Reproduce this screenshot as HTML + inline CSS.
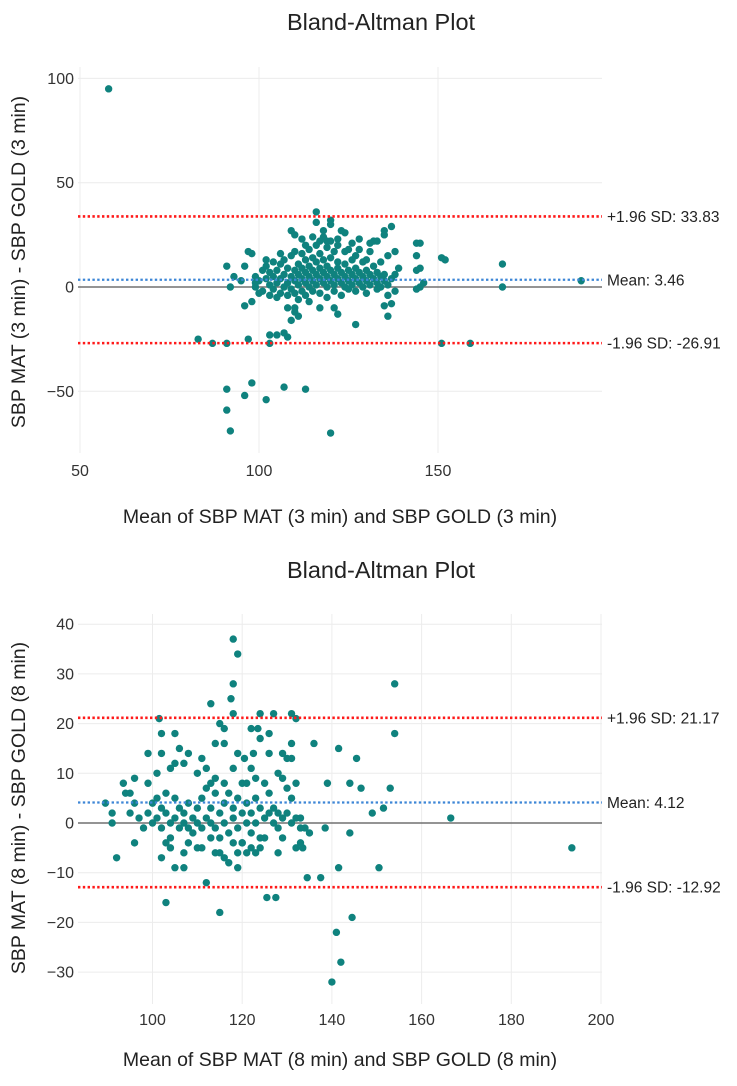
<!DOCTYPE html>
<html><head><meta charset="utf-8"><style>
html,body{margin:0;padding:0;background:#fff;}
svg{display:block;font-family:"Liberation Sans",Arial,sans-serif;}
</style></head><body>
<svg id="fig" width="737" height="1086" viewBox="0 0 737 1086" xmlns="http://www.w3.org/2000/svg"></svg>
<script>
// ---------- Chart 1 (3 min) data ----------
const c1TitleText = "Bland-Altman Plot";
const c1XTicks = [50, 100, 150];
const c1YTicks = [100, 50, 0, -50];
const c1Stats = [33.83, 3.46, -26.91];
const c1StatLabels = ["+1.96 SD: 33.83", "Mean: 3.46", "-1.96 SD: -26.91"];
const c1MeanX = [58,168,168,190,151,152,144,145,144,144,145,144,145,146,151,159,83,87,91,91,92,93,95,96,96,97,97,98,98,99,99,
91,91,92,96,98,102,107,113,120,103,103,105,107,108,108,109,110,110,111,109,110,112,116,116,120,120,127,122,121,114,117,
137,135,135,136,138,139,138,137,136,135,136,138,128,132,131,133,124,122,125,127,130,
100,101,101,102,102,103,103,104,104,104,105,105,106,106,106,107,107,107,108,108,108,109,109,109,110,110,110,111,111,111,
112,112,112,112,113,113,113,113,114,114,114,114,115,115,115,115,116,116,116,116,117,117,117,117,118,118,118,118,119,119,119,119,119,
120,120,120,120,121,121,121,121,122,122,122,123,123,123,124,124,124,125,125,125,126,126,126,127,127,127,128,128,129,129,129,
130,130,130,131,131,132,132,133,133,133,134,134,134,135,135,136,137,131,128,126,118,119,115,122,124,110,106,102,103,100,105,111,99,113,117,123];
const c1Diff = [95,11,0,3,14,13,21,21,15,8,9,-1,0,2,-27,-27,-25,-27,-27,10,0,5,3,-9,10,-25,17,16,-7,0,5,
-49,-59,-69,-52,-46,-54,-48,-49,-70,-27,-23,-23,-22,-24,-10,-16,-12,-10,-14,27,25,23,36,31,32,30,-18,-13,-10,-7,-10,
29,27,25,15,17,9,6,-8,-14,-9,-4,-2,23,22,21,22,26,23,18,15,13,
3,8,-2,4,10,1,7,-1,5,12,2,8,-3,4,11,0,6,13,2,-4,9,5,-1,15,3,8,-3,1,6,11,
4,-2,9,16,2,7,13,-4,0,5,10,18,3,8,-2,14,1,6,12,20,4,9,-3,16,2,7,13,24,0,5,10,-5,19,
3,8,14,22,1,6,-2,17,4,9,12,2,7,-4,0,5,11,3,8,-1,6,1,13,4,-2,9,2,7,0,5,12,
3,-3,8,1,6,4,10,2,-1,7,5,0,12,3,6,1,4,17,18,21,27,22,24,20,17,17,16,13,-4,-3,-5,-6,2,20,22,27];

// ---------- Chart 2 (8 min) data ----------
const c2TitleText = "Bland-Altman Plot";
const c2XTicks = [100, 120, 140, 160, 180, 200];
const c2YTicks = [40, 30, 20, 10, 0, -10, -20, -30];
const c2Stats = [21.17, 4.12, -12.92];
const c2StatLabels = ["+1.96 SD: 21.17", "Mean: 4.12", "-1.96 SD: -12.92"];
const c2MeanX = [193.5,166.5,154,154,153,151.5,149,150.5,146.5,145.5,144,141.5,144,141.5,144.5,141,142,140,
139,138.5,137.5,134.5,136,135,134,133.5,133,133,125.5,127.5,115,103,112,92,91,91,89.5,
118,119,118,117.5,113,118,124,127,131,132,101.5,102,105,126,115,116,122,123.5,
99,102,106,108,111,114,116,119,120.5,122.5,124,126,129,130,131,131,
93.5,94,95,96,99,101,104,105,107,110,112,113,114,116,118,120,121,122,123,125,128,129,131,132,130,
95,96,97,98,99,100,100,101,101,102,102,103,103,104,104,105,105,106,106,107,107,108,108,109,109,110,110,111,111,112,112,113,113,114,114,115,115,116,116,117,117,118,118,119,119,120,120,121,121,122,122,123,123,124,124,125,125,126,126,127,127,128,128,129,130,131,132,
96,102,103,104,105,107,107,108,110,111,113,114,115,116,117,118,119,119,120,121,122,123,124,128,129,132,133];
const c2Diff = [-5,1,28,18,7,3,2,-9,7,13,8,15,-2,-9,-19,-22,-28,-32,
8,-1,-11,-11,16,-2,-1,-5,-4,1,-15,-15,-18,-16,-12,-7,0,2,4,
37,34,28,25,24,22,22,22,22,21,21,18,18,18,20,19,19,19,
14,14,15,14,13,16,16,14,13,14,17,14,14,13,16,13,
8,6,6,9,8,10,11,12,12,10,11,8,9,8,11,8,8,11,9,8,10,9,5,8,7,
2,4,1,-1,2,0,4,1,5,-1,3,2,6,0,-3,1,5,-1,3,0,2,-1,4,1,-2,0,3,-1,5,1,7,0,3,-1,6,2,-3,0,4,-2,6,1,3,-1,5,2,-4,0,4,2,-2,5,0,3,-5,1,-3,2,6,0,3,2,-1,1,2,0,1,
-4,-7,-4,-5,-9,-9,-6,-4,-5,-5,-3,-6,-6,-7,-8,-4,-9,-6,-4,-6,-5,-6,-3,-6,-3,-5,-1];

const NS = "http://www.w3.org/2000/svg";
const svg = document.getElementById('fig');
function mk(tag, attrs, parent) {
  const e = document.createElementNS(NS, tag);
  for (const k in attrs) e.setAttribute(k, attrs[k]);
  (parent || svg).appendChild(e);
  return e;
}

function drawChart(cfg) {
  const g = mk('g', {});
  
  
  const xs = v => cfg.px0 + (v - cfg.xv0) * cfg.kx;
  const ys = v => cfg.py0 - v * cfg.ky;
  const t = mk('text', {x: 381, y: cfg.titleY, 'text-anchor': 'middle', 'font-size': 23.5, fill: '#222'}, g);
  t.textContent = cfg.title;
  
  
  cfg.yTicks.forEach(v => {
    const l = mk('line', {x1: cfg.left, x2: cfg.right, y1: ys(v), y2: ys(v), stroke: '#ececec', 'stroke-width': 1}, g);
    
    
    const tl = mk('text', {x: 74, y: ys(v) + 5.5, 'text-anchor': 'end', 'font-size': 16, fill: '#333'}, g);
    tl.textContent = v < 0 ? '\u2212' + Math.abs(v) : String(v);
    
    
  });
  cfg.xTicks.forEach(v => {
    const l = mk('line', {x1: xs(v), x2: xs(v), y1: cfg.top, y2: cfg.bottom, stroke: '#ececec', 'stroke-width': 1}, g);
    
    
    const tl = mk('text', {x: xs(v), y: cfg.xLabY, 'text-anchor': 'middle', 'font-size': 16, fill: '#333'}, g);
    tl.textContent = String(v);
    
    
  });
  const z = mk('line', {x1: cfg.left, x2: cfg.right, y1: ys(0), y2: ys(0), stroke: '#707070', 'stroke-width': 1.6}, g);
  
  
  cfg.xData.forEach((xv, i) => {
    const c = mk('circle', {cx: xs(xv), cy: ys(cfg.yData[i]), r: 3.7, fill: '#0f827e'}, g);
    
    
  });
  const colors = ['#ff1a1a', '#3d86d6', '#ff1a1a'];
  const names = ['upper-limit-line', 'mean-line', 'lower-limit-line'];
  cfg.stats.forEach((v, i) => {
    const l = mk('line', {x1: cfg.left, x2: cfg.right, y1: ys(v), y2: ys(v), stroke: colors[i], 'stroke-width': i === 1 ? 2.2 : 2.6, 'stroke-dasharray': '2.4,2.4'}, g);
    
    
    const tl = mk('text', {x: cfg.right + 5, y: ys(v) + 5.5, 'font-size': 15.5, fill: '#222'}, g);
    tl.textContent = cfg.statLabels[i];
    
    
  });
  const xt = mk('text', {x: 340, y: cfg.xTitleY, 'text-anchor': 'middle', 'font-size': 19.5, fill: '#222'}, g);
  xt.textContent = cfg.xTitle;
  
  
  const yt = mk('text', {x: 0, y: 0, 'text-anchor': 'middle', 'font-size': 19.5, fill: '#222', transform: 'translate(25,' + cfg.yTitleY + ') rotate(-90)'}, g);
  yt.textContent = cfg.yTitle;
  
  
}

drawChart({id: 'chart-3min', title: c1TitleText, titleY: 30,
  left: 78, right: 602, top: 67, bottom: 453,
  px0: 80, xv0: 50, kx: 3.58, py0: 287, ky: 2.086,
  xTicks: c1XTicks, yTicks: c1YTicks, xData: c1MeanX, yData: c1Diff,
  stats: c1Stats, statLabels: c1StatLabels, xLabY: 476, xTitleY: 523, yTitleY: 262,
  xTitle: 'Mean of SBP MAT (3 min) and SBP GOLD (3 min)', yTitle: 'SBP MAT (3 min) - SBP GOLD (3 min)'});

drawChart({id: 'chart-8min', title: c2TitleText, titleY: 578,
  left: 78, right: 602, top: 614, bottom: 1004,
  px0: 152.5, xv0: 100, kx: 4.485, py0: 823, ky: 4.97,
  xTicks: c2XTicks, yTicks: c2YTicks, xData: c2MeanX, yData: c2Diff,
  stats: c2Stats, statLabels: c2StatLabels, xLabY: 1025, xTitleY: 1066, yTitleY: 808,
  xTitle: 'Mean of SBP MAT (8 min) and SBP GOLD (8 min)', yTitle: 'SBP MAT (8 min) - SBP GOLD (8 min)'});
</script>
</body></html>
